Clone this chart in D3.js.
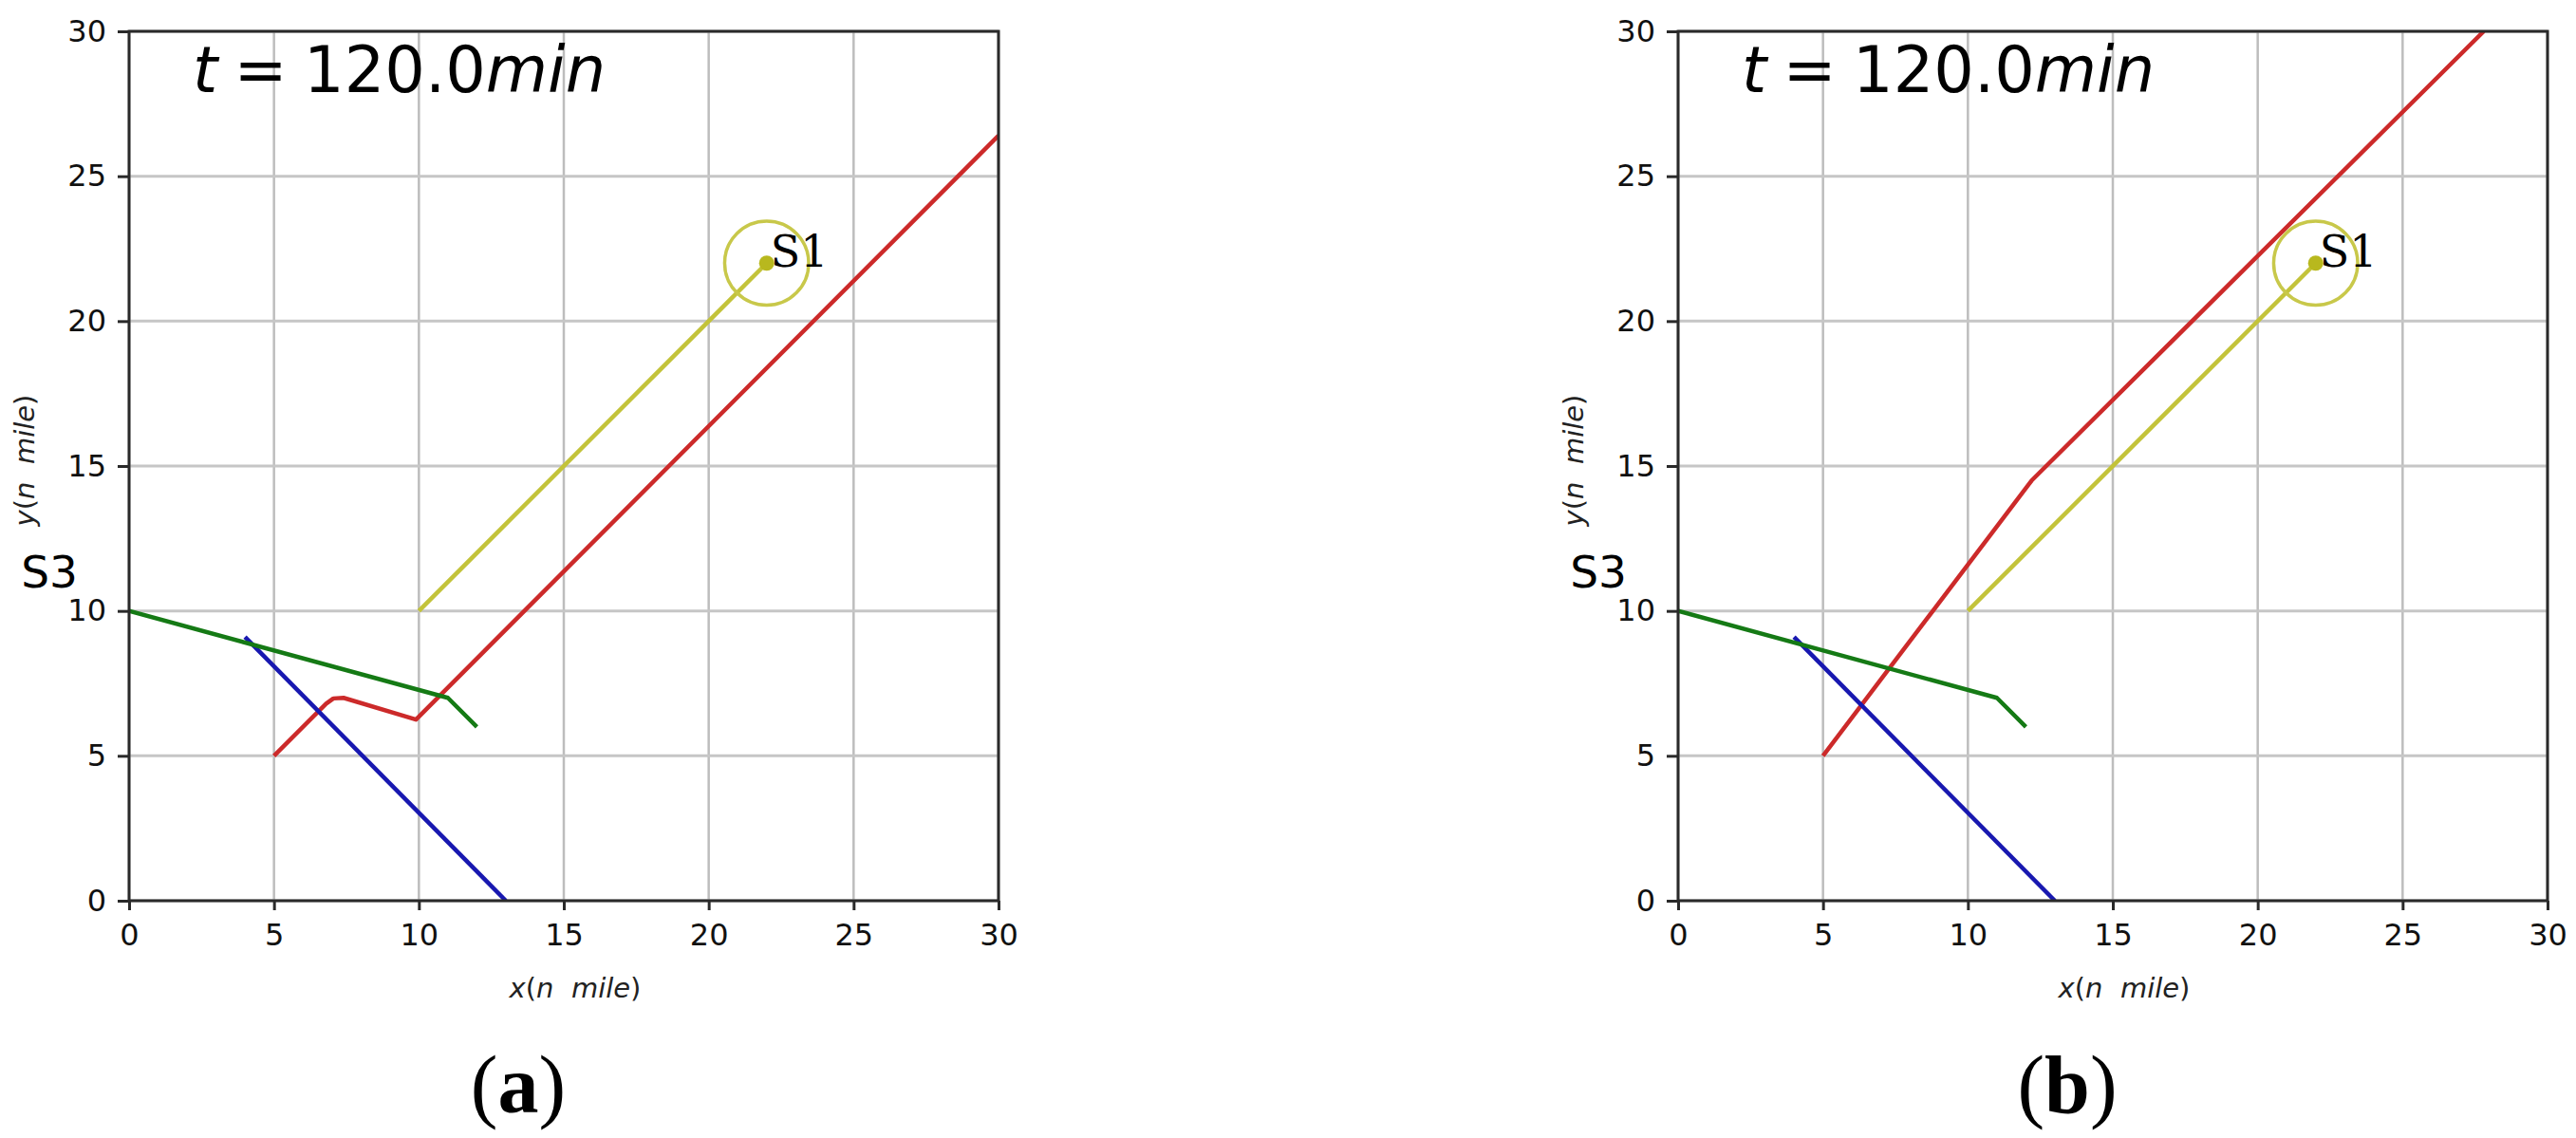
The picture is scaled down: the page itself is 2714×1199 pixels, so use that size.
<!DOCTYPE html>
<html>
<head>
<meta charset="utf-8">
<script src="https://cdn.jsdelivr.net/npm/d3@7"></script>
<style>
  body { margin: 0; background: #fff; }
  svg { display: block; }
  text { font-family: "DejaVu Sans", sans-serif; }
</style>
</head>
<body>
<div id="container"></div>
<script>
/* DATA */
const ticks = [0, 5, 10, 15, 20, 25, 30];
const tickLabels = ["0", "5", "10", "15", "20", "25", "30"];
const timeValue = "120.0";
const panelNames = ["a", "b"];
const greenTrack = [[0, 10], [11, 7], [12, 6]];
const blueTrack = [[4, 9.1], [13, 0]];
const yellowTrack = [[10, 10], [22, 22]];
const redTrackA = [[5, 5], [6.8, 6.8], [7.05, 6.98], [7.4, 7.0], [9.9, 6.25], [30, 26.4]];
const redTrackB = [[5, 5], [12.2, 14.5], [27.8, 30]];
const shipS1 = [22, 22];
const domainRadius = 1.45;

/* CONSTANTS */
const width = 2714;
const height = 1199;
const plotTop = 33;
const plotSize = 916;
const panelLefts = [136, 1768];
const redTracks = [redTrackA, redTrackB];

const svg = d3.select("#container")
  .append("svg")
  .attr("width", width)
  .attr("height", height);

svg.append("rect").attr("width", width).attr("height", height).attr("fill", "#fff");

panelNames.forEach((name, p) => {
  const left = panelLefts[p];
  const g = svg.append("g");

  const xScale = d3.scaleLinear().domain([0, 30]).range([left, left + plotSize]);
  const yScale = d3.scaleLinear().domain([0, 30]).range([plotTop + plotSize, plotTop]);

  // clip
  g.append("clipPath").attr("id", "clip" + p)
    .append("rect")
    .attr("x", left).attr("y", plotTop)
    .attr("width", plotSize).attr("height", plotSize);

  /* GRID */
  g.selectAll(".vgrid").data(ticks).enter().append("line")
    .attr("x1", d => xScale(d)).attr("x2", d => xScale(d))
    .attr("y1", plotTop).attr("y2", plotTop + plotSize)
    .attr("stroke", "#bdbdbd").attr("stroke-width", 2.5);
  g.selectAll(".hgrid").data(ticks).enter().append("line")
    .attr("y1", d => yScale(d)).attr("y2", d => yScale(d))
    .attr("x1", left).attr("x2", left + plotSize)
    .attr("stroke", "#c6c6c6").attr("stroke-width", 3);

  /* TRACKS */
  const line = d3.line().x(d => xScale(d[0])).y(d => yScale(d[1]));
  const tracks = [
    { data: redTracks[p], color: "#cc2a2a" },
    { data: blueTrack, color: "#1818b0" },
    { data: greenTrack, color: "#157a15" },
    { data: yellowTrack, color: "#c3c33a" }
  ];
  const plot = g.append("g").attr("clip-path", `url(#clip${p})`);
  tracks.forEach(t => {
    plot.append("path")
      .attr("d", line(t.data))
      .attr("fill", "none")
      .attr("stroke", t.color)
      .attr("stroke-width", 4.5)
      .attr("stroke-linejoin", "round");
  });

  // ship S1 with its domain circle
  plot.append("circle")
    .attr("cx", xScale(shipS1[0])).attr("cy", yScale(shipS1[1]))
    .attr("r", xScale(shipS1[0] + domainRadius) - xScale(shipS1[0]))
    .attr("fill", "none").attr("stroke", "#c8c84a").attr("stroke-width", 3.5);
  plot.append("circle")
    .attr("cx", xScale(shipS1[0])).attr("cy", yScale(shipS1[1]))
    .attr("r", 8)
    .attr("fill", "#b8b81e");

  g.append("text")
    .attr("x", xScale(shipS1[0]) + 4)
    .attr("y", yScale(shipS1[1]) + 4)
    .style("font-family", "'DejaVu Serif', serif")
    .style("font-size", "46px")
    .text("S1");

  /* SPINES */
  g.append("rect")
    .attr("x", left).attr("y", plotTop)
    .attr("width", plotSize).attr("height", plotSize)
    .attr("fill", "none").attr("stroke", "#2a2a2a").attr("stroke-width", 3);

  /* AXES */
  const xAxis = d3.axisBottom(xScale).tickValues(ticks)
    .tickFormat((d, i) => tickLabels[i]).tickSize(10).tickPadding(14);
  const yAxis = d3.axisLeft(yScale).tickValues(ticks)
    .tickFormat((d, i) => tickLabels[i]).tickSize(12).tickPadding(12);

  const gx = g.append("g")
    .attr("transform", `translate(0, ${plotTop + plotSize})`)
    .call(xAxis);
  const gy = g.append("g")
    .attr("transform", `translate(${left}, 0)`)
    .call(yAxis);
  [gx, gy].forEach(ax => {
    ax.select(".domain").remove();
    ax.selectAll(".tick line").attr("stroke", "#2a2a2a").attr("stroke-width", 3);
    ax.selectAll(".tick text")
      .attr("fill", "#111")
      .style("font-family", "'DejaVu Sans', sans-serif")
      .style("font-size", "32px");
  });

  /* LABELS */
  const xl = g.append("text")
    .attr("x", left + plotSize / 2 + 12)
    .attr("y", 1051)
    .attr("text-anchor", "middle")
    .attr("fill", "#222")
    .style("font-size", "29px")
    .style("white-space", "pre");
  xl.append("tspan").style("font-style", "italic").text("x");
  xl.append("tspan").text("(");
  xl.append("tspan").style("font-style", "italic").text("n  mile");
  xl.append("tspan").text(")");

  const yl = g.append("text")
    .attr("transform", `translate(${left - 100}, ${plotTop + plotSize / 2 - 6}) rotate(-90)`)
    .attr("text-anchor", "middle")
    .attr("fill", "#222")
    .style("font-size", "29px")
    .style("white-space", "pre");
  yl.append("tspan").style("font-style", "italic").text("y");
  yl.append("tspan").text("(");
  yl.append("tspan").style("font-style", "italic").text("n  mile");
  yl.append("tspan").text(")");

  g.append("text")
    .attr("x", left - 54)
    .attr("y", 619)
    .attr("text-anchor", "end")
    .style("font-size", "47px")
    .text("S3");

  /* TITLE */
  const title = g.append("text")
    .attr("x", left + 67)
    .attr("y", 97)
    .style("font-size", "67px")
    .style("white-space", "pre");
  title.append("tspan").style("font-style", "italic").text("t");
  title.append("tspan").attr("dx", -4).text(" = ");
  title.append("tspan").attr("dx", -4).text(timeValue);
  title.append("tspan").style("font-style", "italic").text("min");

  /* PANEL CAPTION */
  const cap = g.append("text")
    .attr("x", left + 410)
    .attr("y", 1172)
    .attr("text-anchor", "middle")
    .style("font-family", "'Liberation Serif', 'Times New Roman', serif")
    .style("font-size", "86px");
  cap.append("tspan").text("(");
  cap.append("tspan").style("font-weight", "bold").text(name);
  cap.append("tspan").text(")");
});
</script>
</body>
</html>
